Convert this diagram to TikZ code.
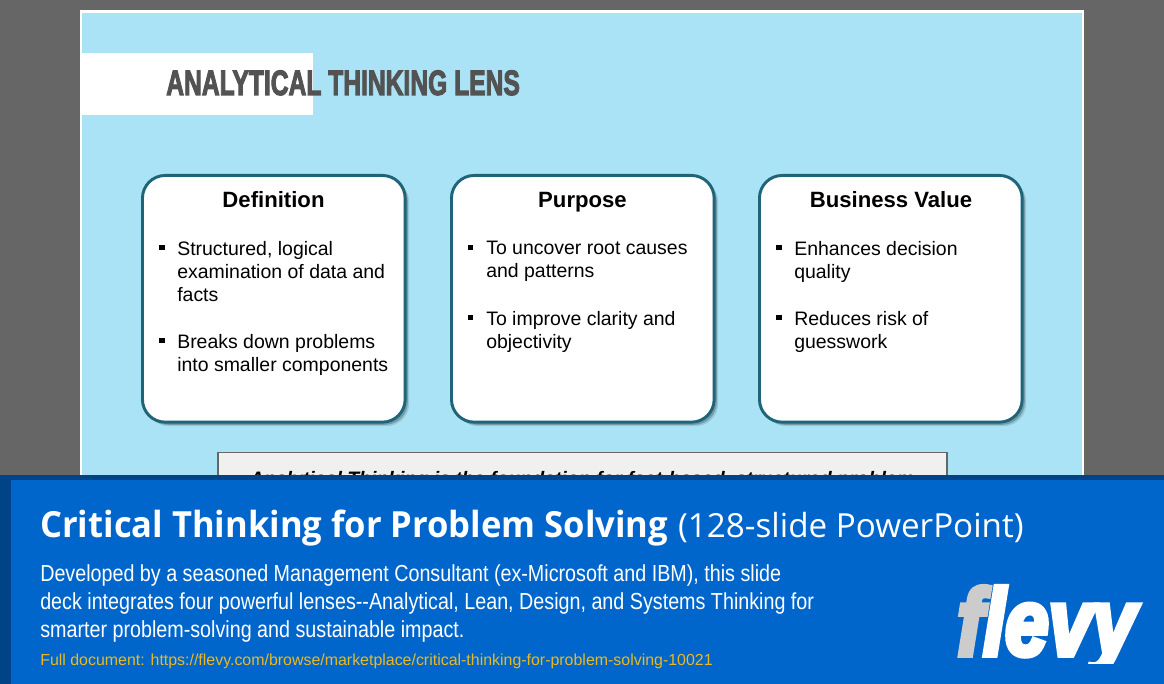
\documentclass[tikz,border=0pt]{standalone}
\usepackage{fontspec}
\setmainfont{Liberation Sans}
\newfontfamily\impactfont[FakeBold=3.5]{Liberation Sans Bold}
\newfontfamily\logofont[FakeBold=6]{Liberation Sans Bold Italic}
\newfontfamily\segoesemi[FakeStretch=0.96]{Open Sans Bold}
\newfontfamily\segoelight{Open Sans}
\newfontfamily\bodyfont[FakeStretch=0.85,Ligatures=NoCommon]{Liberation Sans}
\usetikzlibrary{shadows,calc}
\definecolor{pagegrey}{HTML}{666666}
\definecolor{slideblue}{HTML}{A9E3F5}
\definecolor{tealedge}{HTML}{1F6478}
\definecolor{titlegrey}{HTML}{535353}
\definecolor{bannerblue}{HTML}{0066CC}
\definecolor{bannerdark}{HTML}{004488}
\definecolor{linkgold}{HTML}{E8B923}
\definecolor{logogrey}{HTML}{CCCCCC}
\definecolor{notefill}{HTML}{F0F0F0}
\definecolor{noteedge}{HTML}{666666}
\tikzset{
  cardbox/.style={draw=tealedge,line width=2.2pt,fill=white,rounded corners=17pt,
    minimum width=197pt,minimum height=185pt,anchor=north west,
    drop shadow={shadow xshift=3pt,shadow yshift=-3pt,fill=black,opacity=.12},
    drop shadow={shadow xshift=2pt,shadow yshift=-2pt,fill=black,opacity=.22}},
  cardhead/.style={font=\fontsize{16.6}{20}\selectfont\bfseries,text=black,anchor=base},
  bullettext/.style={font=\fontsize{14.6}{17.25}\selectfont,text=black,align=left,anchor=north west,inner sep=0pt},
  bulletmark/.style={fill=black,minimum size=4.2pt,inner sep=0pt},
}
\begin{document}
\begin{tikzpicture}[x=0.75pt,y=-0.75pt]
\useasboundingbox (0,0) rectangle (1164,684);
\fill[pagegrey] (0,0) rectangle (1164,684);
\fill[white] (80,10) rectangle (1084,480);
\fill[slideblue] (82,13) rectangle (1082,480);
\fill[white] (82,53) rectangle (312.5,115.5);
\node[anchor=base west,inner sep=0pt,text=titlegrey,font=\impactfont\fontsize{24}{28}\selectfont] (title) at (166,95) {\scalebox{0.77}[1.1]{ANALYTICAL THINKING LENS}};

\node[cardbox] (c1) at (141,174) {};
\node[cardbox] (c2) at (450,174) {};
\node[cardbox] (c3) at (758,174) {};

\node[cardhead] (h1) at (273.5,207.5) {Definition};
\node[cardhead] (h2) at (582.5,207.5) {Purpose};
\node[cardhead] (h3) at (891,207.5) {Business Value};

\node[bulletmark] (b11) at (162,247.5) {};
\node[bullettext] (t11) at (177,241) {Structured, logical\\examination of data and\\facts};
\node[bulletmark] (b12) at (162,340.5) {};
\node[bullettext] (t12) at (177,334) {Breaks down problems\\into smaller components};
\node[bulletmark] (b21) at (470.5,247.5) {};
\node[bullettext] (t21) at (486,241) {To uncover root causes\\and patterns};
\node[bulletmark] (b22) at (470.5,317.5) {};
\node[bullettext] (t22) at (486,311) {To improve clarity and\\objectivity};
\node[bulletmark] (b31) at (779,247.5) {};
\node[bullettext] (t31) at (794,241) {Enhances decision\\quality};
\node[bulletmark] (b32) at (779,317.5) {};
\node[bullettext] (t32) at (794,311) {Reduces risk of\\guesswork};

\node[draw=noteedge,line width=1.2pt,fill=notefill,anchor=north west,minimum width=547pt,minimum height=60pt,inner sep=0pt] (note) at (217,451.5) {};
\node[anchor=base,inner sep=0pt,font=\fontsize{14.6}{17}\selectfont\bfseries\itshape,text=black] (notetext) at (582,485.5) {Analytical Thinking is the foundation for fact-based, structured problem};

\fill[bannerdark] (0,475) rectangle (1164,684);
\fill[bannerblue] (11,480) rectangle (1164,684);
\node[anchor=base west,inner sep=0pt,text=white] (btitle) at (40,537) {\fontsize{27}{32}\selectfont{\segoesemi Critical Thinking for Problem Solving} {\segoelight\fontsize{24.9}{30}\selectfont (128-slide PowerPoint)}};
\node[anchor=north west,inner sep=0pt,text=white,align=left,font=\bodyfont\fontsize{17.4}{21}\selectfont] (bbody) at (40,564) {Developed by a seasoned Management Consultant (ex-Microsoft and IBM), this slide\\deck integrates four powerful lenses{-}{-}Analytical, Lean, Design, and Systems Thinking for\\smarter problem-solving and sustainable impact.};
\node[anchor=base west,inner sep=0pt,text=linkgold,font=\fontsize{11.95}{14}\selectfont] (blink) at (40,665) {Full document: https://flevy.com/browse/marketplace/critical-thinking-for-problem-solving-10021};
\begin{scope}
\clip (940,570) rectangle (1164,663.5);
\node[anchor=base west,inner sep=0pt,font=\logofont\fontsize{66}{70}\selectfont] (logo) at (957,655) {\scalebox{0.89}[1.07]{\textcolor{logogrey}{f}\textcolor{white}{levy}}};
\end{scope}
\end{tikzpicture}
\end{document}
